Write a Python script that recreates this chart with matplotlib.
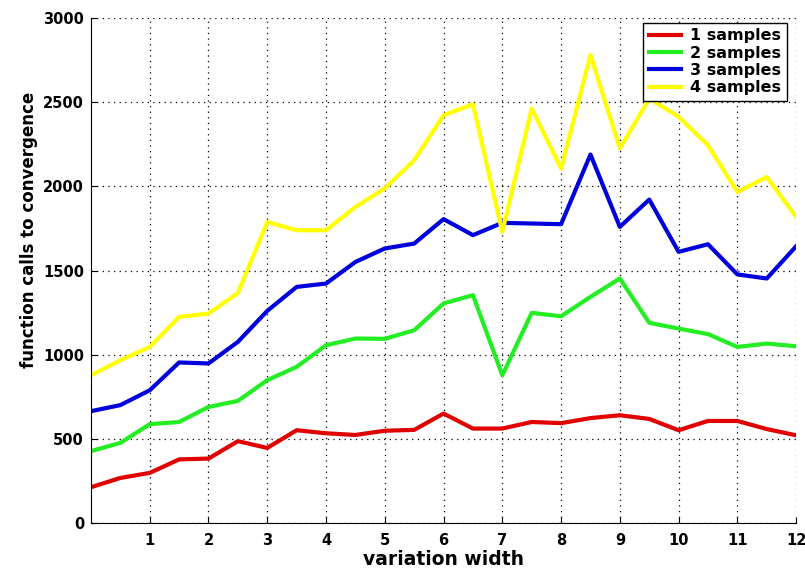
import matplotlib
matplotlib.use('Agg')
import matplotlib.pyplot as plt
import numpy as np

# ширина варіації (крок 0.5)
width = np.arange(0, 12.5, 0.5)

samples_1 = [215, 270, 300, 380, 385, 488, 448, 553, 535, 525, 550, 555, 652,
             563, 563, 602, 595, 625, 642, 620, 553, 608, 608, 560, 523]
samples_2 = [429, 478, 589, 602, 691, 727, 850, 929, 1057, 1097, 1095, 1146, 1305,
             1354, 879, 1249, 1229, 1344, 1453, 1190, 1156, 1123, 1047, 1067, 1051]
samples_3 = [666, 702, 790, 955, 949, 1077, 1261, 1403, 1423, 1551, 1631, 1660, 1805,
             1710, 1783, 1779, 1775, 2188, 1759, 1921, 1611, 1656, 1477, 1453, 1644]
samples_4 = [879, 968, 1047, 1225, 1245, 1367, 1788, 1739, 1739, 1877, 1987, 2154, 2421,
             2486, 1729, 2461, 2105, 2778, 2224, 2520, 2412, 2243, 1966, 2055, 1818]

series = [samples_1, samples_2, samples_3, samples_4]
labels = ['1 samples', '2 samples', '3 samples', '4 samples']
colors = ['#e00000', '#22ee22', '#0000dd', '#ffff00']

plt.rcParams['font.family'] = ['DejaVu Sans']
plt.rcParams['font.weight'] = 'bold'

fig = plt.figure(figsize=(8.05, 5.69), dpi=100)
ax = fig.add_axes([0.113, 0.080, 0.876, 0.889])

for vals, lab, col in zip(series, labels, colors):
    ax.plot(width, vals, color=col, linewidth=3, label=lab)

ax.set_xlim(0, 12)
ax.set_ylim(0, 3000)
ax.set_xticks(range(1, 13))
ax.set_yticks(range(0, 3001, 500))
ax.tick_params(direction='in', labelsize=10.5, length=4)
ax.tick_params(axis='x', pad=7)
ax.tick_params(axis='y', pad=5)
ax.grid(True, linestyle=(0, (1, 3.5)), color='black', linewidth=0.9)

for s in ['top', 'right']:
    ax.spines[s].set_visible(False)

ax.set_xlabel('variation width', fontsize=13.5, fontweight='bold', labelpad=1)
ax.set_ylabel('function calls to convergence', fontsize=12, fontweight='bold')
# підпис осі y трохи вище центру, як в оригіналі
ax.yaxis.set_label_coords(-0.075, 0.58)

leg = ax.legend(loc='upper right', bbox_to_anchor=(0.987, 0.990), fontsize=11.5,
                frameon=True, fancybox=False, edgecolor='black', framealpha=1,
                borderaxespad=0, borderpad=0.35, handlelength=2.0,
                handletextpad=0.6, labelspacing=0.15)
leg.get_frame().set_linewidth(1)

fig.savefig('out.png', dpi=100)
